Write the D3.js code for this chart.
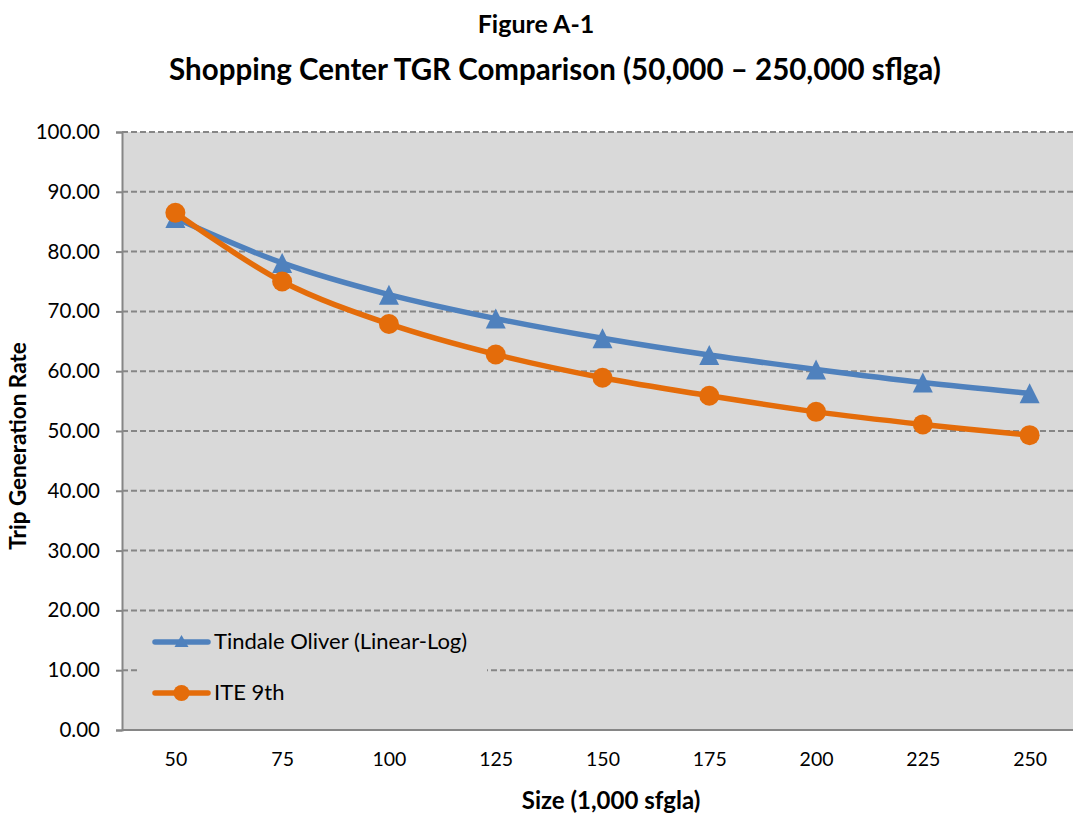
<!DOCTYPE html>
<html>
<head>
<meta charset="utf-8">
<script src="https://cdn.jsdelivr.net/npm/d3@7"></script>
<style>
  html, body { margin: 0; padding: 0; background: #fff; }
  svg { display: block; }
  text { font-family: Lato, "Open Sans", sans-serif; fill: #000; }
</style>
</head>
<body>
<svg id="chart" width="1073" height="816"></svg>
<script>
// Building size (1,000 sq ft gross leasable area)
const sizes = [50, 75, 100, 125, 150, 175, 200, 225, 250];
// Trip generation rates per model
const tindaleOliver = [85.6, 78.1, 72.8, 68.8, 65.5, 62.7, 60.3, 58.1, 56.3];
const ite9th = [86.5, 75.0, 67.9, 62.8, 58.9, 55.9, 53.2, 51.1, 49.3];
const yTicks = [0, 10, 20, 30, 40, 50, 60, 70, 80, 90, 100];

const seriesList = [
  { name: "Tindale Oliver (Linear-Log)", values: tindaleOliver, color: "#4F81BD", marker: "triangle" },
  { name: "ITE 9th", values: ite9th, color: "#E46C0A", marker: "circle" }
];

const svg = d3.select("#chart");
const plot = { left: 122, right: 1083, top: 132, bottom: 730 };

const x = d3.scalePoint().domain(sizes).range([plot.left, plot.right]).padding(0.5);
const y = d3.scaleLinear().domain([0, 100]).range([plot.bottom, plot.top]);

// Titles
svg.append("text").attr("x", 536).attr("y", 33).attr("text-anchor", "middle")
  .attr("font-weight", "bold").attr("font-size", 25).text("Figure A-1");
svg.append("text").attr("x", 555).attr("y", 80).attr("text-anchor", "middle")
  .attr("font-weight", "bold").attr("font-size", 29.5).text("Shopping Center TGR Comparison (50,000 \u2013 250,000 sflga)");

// Plot background
svg.append("rect").attr("x", plot.left).attr("y", plot.top)
  .attr("width", plot.right - plot.left).attr("height", plot.bottom - plot.top)
  .attr("fill", "#D9D9D9");

// Dashed horizontal gridlines
svg.append("g").selectAll("line").data(yTicks.filter(d => d > 0)).join("line")
  .attr("x1", plot.left).attr("x2", plot.right)
  .attr("y1", d => y(d)).attr("y2", d => y(d))
  .attr("stroke", "#868686").attr("stroke-width", 2).attr("stroke-dasharray", "6,3");

// Legend box (covers the gridline beneath it)
svg.append("rect").attr("x", 137).attr("y", 620).attr("width", 350).attr("height", 96)
  .attr("fill", "#D9D9D9");

// Y axis
const yAxis = svg.append("g").attr("transform", `translate(${plot.left},0)`)
  .call(d3.axisLeft(y).tickValues(yTicks).tickFormat(d3.format(".2f")).tickSize(6).tickPadding(16));
yAxis.selectAll("path, line").attr("stroke", "#868686").attr("stroke-width", 2);
yAxis.selectAll("text").attr("font-size", 20.5).attr("font-family", "Lato, sans-serif").attr("fill", "#000");

// X axis (labels only, baseline rule)
const xAxis = svg.append("g").attr("transform", `translate(0,${plot.bottom})`)
  .call(d3.axisBottom(x).tickSize(0).tickPadding(22));
xAxis.select("path").attr("d", `M${plot.left},0H${plot.right}`).attr("stroke", "#868686").attr("stroke-width", 2);
xAxis.selectAll("text").attr("font-size", 19.5).attr("font-family", "Lato, sans-serif").attr("fill", "#000");

// Axis titles
svg.append("text").attr("x", 611).attr("y", 809).attr("text-anchor", "middle")
  .attr("font-weight", "bold").attr("font-size", 24).text("Size (1,000 sfgla)");
svg.append("text").attr("transform", "translate(26,446) rotate(-90)").attr("text-anchor", "middle")
  .attr("font-weight", "bold").attr("font-size", 22.5).text("Trip Generation Rate");

const trianglePath = (w, h) => `M0,${-h / 2}L${w / 2},${h / 2}L${-w / 2},${h / 2}Z`;

function drawMarker(g, s, px, py, big) {
  if (s.marker === "triangle") {
    g.append("path").attr("d", big ? trianglePath(20, 20) : trianglePath(14, 12))
      .attr("transform", `translate(${px},${py})`).attr("fill", s.color);
  } else {
    g.append("circle").attr("cx", px).attr("cy", py).attr("r", big ? 10 : 8).attr("fill", s.color);
  }
}

// Series lines and markers
const line = d3.line().x((d, i) => x(sizes[i])).y(d => y(d)).curve(d3.curveCatmullRom.alpha(0.5));
seriesList.forEach(s => {
  const g = svg.append("g");
  g.append("path").attr("d", line(s.values)).attr("fill", "none")
    .attr("stroke", s.color).attr("stroke-width", 5.5).attr("stroke-linecap", "round");
  s.values.forEach((v, i) => drawMarker(g, s, x(sizes[i]), y(v), true));
});

// Legend entries
seriesList.forEach((s, i) => {
  const ly = 642 + i * 51;
  const g = svg.append("g");
  g.append("line").attr("x1", 155).attr("x2", 208).attr("y1", ly).attr("y2", ly)
    .attr("stroke", s.color).attr("stroke-width", 5.5).attr("stroke-linecap", "round");
  drawMarker(g, s, 181.5, s.marker === "triangle" ? ly - 1 : ly, false);
  g.append("text").attr("x", 214).attr("y", ly + 7).attr("font-size", 22).text(s.name);
});
</script>
</body>
</html>
